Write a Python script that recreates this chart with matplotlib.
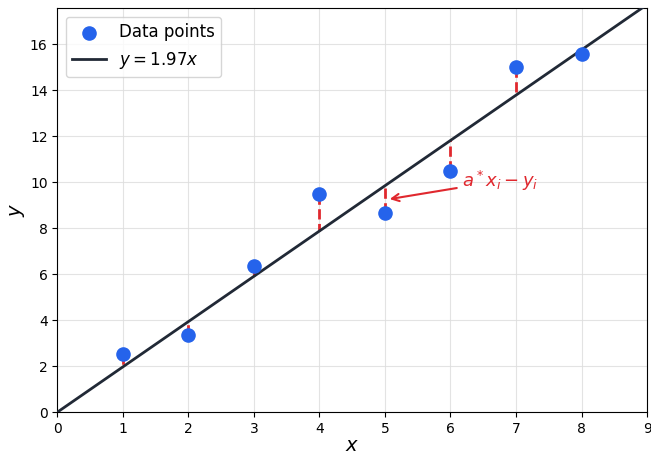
import numpy as np
import matplotlib
matplotlib.use("Agg")
import matplotlib.pyplot as plt

# data
x = np.array([1, 2, 3, 4, 5, 6, 7, 8])
y = np.array([2.52, 3.37, 6.35, 9.48, 8.65, 10.47, 15.0, 15.57])
a = 1.97

fig, ax = plt.subplots(figsize=(6.51, 4.57), dpi=100)

# residual lines
for xi, yi in zip(x, y):
    ax.plot([xi, xi], [yi, a * xi], color="#e0282e", ls="--", lw=2, zorder=2)

xs = np.array([0, 9])
pts = ax.scatter(x, y, s=90, color="#2563eb", label="Data points", zorder=4)
line, = ax.plot(xs, a * xs, color="#212936", lw=2, label=r"$y = 1.97x$", zorder=3)

ax.annotate(r"$a^*x_i - y_i$", xy=(5.03, 9.25), xytext=(6.18, 9.8),
            color="#e0282e", fontsize=13,
            arrowprops=dict(arrowstyle="->", color="#e0282e", lw=1.5))

ax.set_xlim(0, 9)
ax.set_ylim(0, 17.57)
ax.set_xlabel(r"$x$", fontsize=14, labelpad=0)
ax.set_ylabel(r"$y$", fontsize=14, labelpad=2)
ax.grid(True, color="#dddddd", alpha=0.8, lw=0.8)
ax.legend(handles=[pts, line], loc="upper left", fontsize=12)

plt.subplots_adjust(left=0.088, right=0.994, top=0.982, bottom=0.098)
plt.savefig("out.png")
